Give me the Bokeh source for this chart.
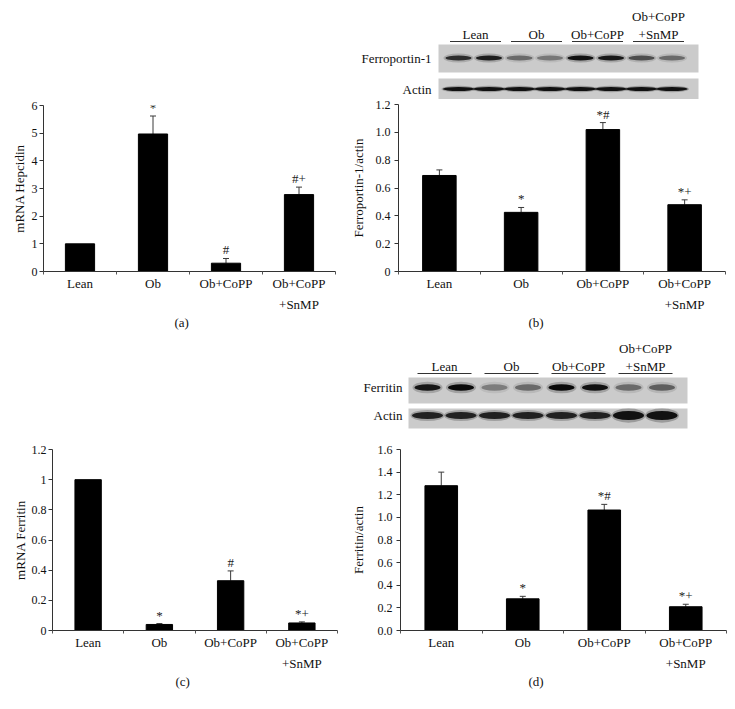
from bokeh.plotting import figure
from bokeh.layouts import row, column
from bokeh.models import Range1d, FixedTicker, Whisker, TeeHead, ColumnDataSource, Title
from bokeh.core.properties import value
from bokeh.embed import file_html
from bokeh.resources import INLINE

FONT = "Liberation Serif"

# ---------------- data ----------------
groups = ["Lean", "Ob", "Ob+CoPP", "Ob+CoPP\n+SnMP"]

hepcidin_mean = [1.0, 4.97, 0.30, 2.78]
hepcidin_sem = [0.0, 0.65, 0.17, 0.27]
hepcidin_sig = ["", "*", "#", "#+"]
hepcidin_ticks = [0, 1, 2, 3, 4, 5, 6]
hepcidin_tick_labels = ["0", "1", "2", "3", "4", "5", "6"]

fpn_mean = [0.69, 0.425, 1.02, 0.48]
fpn_sem = [0.04, 0.035, 0.05, 0.035]
fpn_sig = ["", "*", "*#", "*+"]
fpn_ticks = [0, 0.2, 0.4, 0.6, 0.8, 1.0, 1.2]
fpn_tick_labels = ["0", "0.2", "0.4", "0.6", "0.8", "1.0", "1.2"]

ftn_mrna_mean = [1.0, 0.04, 0.33, 0.05]
ftn_mrna_sem = [0.0, 0.006, 0.065, 0.007]
ftn_mrna_sig = ["", "*", "#", "*+"]
ftn_mrna_ticks = [0, 0.2, 0.4, 0.6, 0.8, 1.0, 1.2]
ftn_mrna_tick_labels = ["0", "0.2", "0.4", "0.6", "0.8", "1", "1.2"]

ftn_prot_mean = [1.28, 0.28, 1.065, 0.21]
ftn_prot_sem = [0.12, 0.022, 0.05, 0.022]
ftn_prot_sig = ["", "*", "*#", "*+"]
ftn_prot_ticks = [0, 0.2, 0.4, 0.6, 0.8, 1.0, 1.2, 1.4, 1.6]
ftn_prot_tick_labels = ["0.0", "0.2", "0.4", "0.6", "0.8", "1.0", "1.2", "1.4", "1.6"]

# western blot band intensities (2 lanes per group)
fpn_band = [0.78, 0.88, 0.45, 0.38, 0.95, 0.9, 0.6, 0.45]
fpn_actin_band = [0.95, 0.95, 0.95, 0.95, 0.95, 0.95, 0.95, 0.95]
ftn_band = [0.92, 1.0, 0.35, 0.45, 1.0, 0.95, 0.45, 0.5]
ftn_actin_band = [0.85, 0.85, 0.85, 0.85, 0.85, 0.85, 0.95, 0.95]

WL, WR = 339, 380


def bar_panel(width, height, borders, mean, sem, sig, ticks, tick_labels, ylabel,
              bar_width, panel_label, label_offset, ylabel_standoff, tick_standoff):
    n = len(groups)
    xs = [i + 0.5 for i in range(n)]
    left, right, top, bottom = borders
    p = figure(width=width, height=height,
               x_range=Range1d(0, n), y_range=Range1d(ticks[0], ticks[-1]),
               toolbar_location=None, output_backend="svg",
               min_border_left=left, min_border_right=right,
               min_border_top=top, min_border_bottom=bottom)
    p.outline_line_color = None
    p.grid.visible = False

    upper = [m + s for m, s in zip(mean, sem)]
    src = ColumnDataSource(dict(x=xs, top=mean, upper=upper, sig=sig))
    p.vbar(x="x", top="top", width=bar_width, source=src,
           fill_color="black", line_color="black")

    idx = [i for i in range(n) if sem[i] > 0]
    wsrc = ColumnDataSource(dict(x=[xs[i] for i in idx],
                                 lower=[mean[i] for i in idx],
                                 upper=[upper[i] for i in idx]))
    w = Whisker(source=wsrc, base="x", lower="lower", upper="upper",
                dimension="height", line_color="#3a3a3a", line_width=1,
                upper_head=TeeHead(size=6, line_color="#3a3a3a", line_width=1),
                lower_head=None)
    p.add_layout(w)

    p.text(x="x", y="upper", text="sig", source=src, text_align="center",
           text_baseline="bottom", y_offset=-1, text_font=value(FONT),
           text_font_size="13px", text_color="#222222")

    xa = p.xaxis[0]
    xa.ticker = FixedTicker(ticks=xs, minor_ticks=list(range(n + 1)))
    xa.major_label_overrides = {x: g for x, g in zip(xs, groups)}
    xa.major_tick_line_color = None
    xa.major_tick_out = 0
    xa.major_tick_in = 0
    xa.minor_tick_out = 3
    xa.minor_tick_in = 0
    xa.minor_tick_line_color = "#555555"
    xa.axis_line_color = "#333333"
    xa.major_label_text_font = FONT
    xa.major_label_text_font_size = "13px"
    xa.major_label_text_color = "#111111"
    xa.major_label_text_line_height = 1.4
    xa.major_label_standoff = 1

    ya = p.yaxis[0]
    ya.ticker = FixedTicker(ticks=ticks, minor_ticks=[])
    ya.major_label_overrides = dict(zip(ticks, tick_labels))
    ya.major_tick_out = 4
    ya.major_tick_in = 0
    ya.minor_tick_line_color = None
    ya.axis_line_color = "#333333"
    ya.major_tick_line_color = "#333333"
    ya.major_label_text_font = FONT
    ya.major_label_text_font_size = "12px"
    ya.major_label_text_color = "#111111"
    ya.major_label_standoff = tick_standoff
    ya.axis_label = ylabel
    ya.axis_label_text_font = FONT
    ya.axis_label_text_font_size = "13px"
    ya.axis_label_text_font_style = "normal"
    ya.axis_label_text_color = "#111111"
    ya.axis_label_standoff = ylabel_standoff

    p.add_layout(Title(text=panel_label, align="left", offset=label_offset,
                       text_font=FONT, text_font_size="13px", text_font_style="normal",
                       text_color="#111111", standoff=1, vertical_align="top"), "below")
    return p


def blot_panel(height, protein_name, protein_band, actin_band, lane0, lane_dx,
               box_x, prot_box_y, actin_box_y, prot_y, actin_y, prot_h, actin_h,
               name_x, line_y, pad_l, pad_r, actin_thick=None):
    p = figure(width=WR, height=height, x_range=Range1d(0, WR), y_range=Range1d(height, 0),
               x_axis_type=None, y_axis_type=None, toolbar_location=None,
               output_backend="svg", min_border=0)
    p.outline_line_color = None
    p.grid.visible = False
    lanes = [lane0 + lane_dx * i for i in range(len(protein_band))]

    p.quad(left=[box_x[0], box_x[0]], right=[box_x[1], box_x[1]],
           top=[prot_box_y[0], actin_box_y[0]], bottom=[prot_box_y[1], actin_box_y[1]],
           fill_color="#cbcbcb", line_color=None)

    # protein bands
    p.ellipse(x=lanes, y=[prot_y] * len(lanes), width=30, height=prot_h * 1.8,
              fill_color="#222222", fill_alpha=[0.25 * a for a in protein_band], line_color=None)
    p.ellipse(x=lanes, y=[prot_y] * len(lanes), width=26, height=prot_h,
              fill_color="#0a0a0a", fill_alpha=protein_band, line_color=None)
    # actin bands
    ah = actin_thick if actin_thick else [actin_h] * len(lanes)
    p.ellipse(x=lanes, y=[actin_y] * len(lanes), width=34, height=[h * 1.6 for h in ah],
              fill_color="#222222", fill_alpha=[0.3 * a for a in actin_band], line_color=None)
    p.ellipse(x=lanes, y=[actin_y] * len(lanes), width=31, height=ah,
              fill_color="#0a0a0a", fill_alpha=actin_band, line_color=None)

    # group lines and labels
    x0 = [lanes[2 * j] - pad_l for j in range(len(groups))]
    x1 = [lanes[2 * j + 1] + pad_r for j in range(len(groups))]
    p.segment(x0=x0, x1=x1, y0=[line_y] * len(groups), y1=[line_y] * len(groups),
              line_color="#333333", line_width=1.2)
    p.text(x=[(a + b) / 2 for a, b in zip(x0, x1)], y=[line_y] * len(groups), text=groups,
           text_align="center", text_baseline="bottom", text_font=value(FONT),
           text_font_size="13px", text_line_height=1.2, text_color="#111111")
    p.text(x=[name_x, name_x], y=[prot_y, actin_y], text=[protein_name, "Actin"],
           text_align="right", text_baseline="middle", text_font=value(FONT),
           text_font_size="13px", text_color="#111111")
    return p


fig_a = bar_panel(WL, 327, (35, 12, 97, 64), hepcidin_mean, hepcidin_sem, hepcidin_sig,
                  hepcidin_ticks, hepcidin_tick_labels, "mRNA Hepcidin", 0.4,
                  "(a)", 131, 2, 2)
fig_c = bar_panel(WL, 365, (44, 10, 114, 70), ftn_mrna_mean, ftn_mrna_sem, ftn_mrna_sig,
                  ftn_mrna_ticks, ftn_mrna_tick_labels, "mRNA Ferritin", 0.37,
                  "(c)", 123, 1, 2)
fig_b = bar_panel(WR, 236, (49, 2, 5, 64), fpn_mean, fpn_sem, fpn_sig,
                  fpn_ticks, fpn_tick_labels, "Ferroportin-1/actin", 0.41,
                  "(b)", 130, 7, 4)
fig_d = bar_panel(WR, 265, (51, 1, 14, 70), ftn_prot_mean, ftn_prot_sem, ftn_prot_sig,
                  ftn_prot_ticks, ftn_prot_tick_labels, "Ferritin/actin", 0.4,
                  "(d)", 128, 9, 4)

blot_b = blot_panel(91, "Ferroportin-1", fpn_band, fpn_actin_band, 111, 30.5,
                    (91, 351), (36, 64), (70, 91), 49.5, 80.5, 5, 4,
                    84, 33, 8.5, 12)
blot_d = blot_panel(100, "Ferritin", ftn_band, ftn_actin_band, 80, 33.5,
                    (61, 340), (42, 68), (73, 93), 52, 80, 6.5, 7,
                    55, 38, 10, 10.5, actin_thick=[7, 7, 7, 7, 7, 7, 9, 9])

left_col = column(row(fig_a), row(fig_c))
right_col = column(row(blot_b), row(fig_b), row(blot_d), row(fig_d))
layout = row(left_col, right_col, margin=(8, 0, 0, 8))

open("out.html", "w").write(file_html(layout, INLINE))
